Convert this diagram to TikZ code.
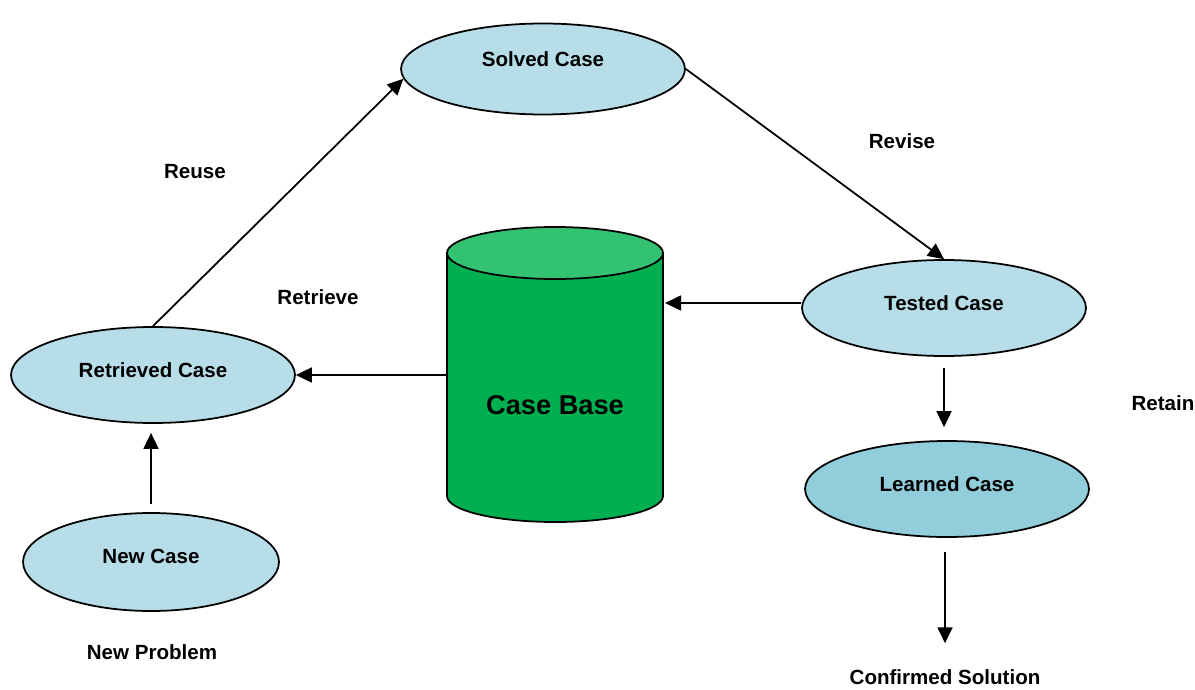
\documentclass[tikz,border=0pt]{standalone}
\usepackage{fontspec}
\setmainfont{Liberation Sans}
\usepackage{tikz}
\usetikzlibrary{arrows.meta}
\usetikzlibrary{shapes.geometric}

\definecolor{caseblue}{HTML}{B7DEE8}
\definecolor{learnblue}{HTML}{92CDDC}
\definecolor{basegreen}{HTML}{00B050}
\definecolor{topgreen}{HTML}{33C172}

\def\thickness{1pt}
\tikzstyle{thick}=[line width=\thickness]
\tikzset{casenode/.style={ellipse, draw, line width=1pt, fill=caseblue,
    minimum width=5.68cm, minimum height=1.92cm, inner sep=0pt,
    text depth=6pt, font=\fontsize{11.7}{14}\selectfont\bfseries}}
\tikzset{steplabel/.style={font=\fontsize{11.7}{14}\selectfont\bfseries}}
\tikzset{flow/.style={thick, -{Triangle[length=0.32cm, width=0.3cm]}}}

\begin{document}
\begin{tikzpicture}[x=0.02cm, y=0.02cm]

\useasboundingbox (0, 0) rectangle (1195, -689);

% the four cases round the loop
\node [casenode, minimum height=1.82cm, text depth=11.5pt] (solved) at (543, -69) {Solved Case};
\node [casenode] (tested) at (944, -308) {Tested Case};
\node [casenode] (retrieved) at (153, -375) {Retrieved Case};
\node [casenode, fill=learnblue] (learned) at (947, -489) {Learned Case};
\node [casenode, minimum width=5.12cm, minimum height=1.96cm] (new) at (151, -562) {New Case};

% case base drum
\filldraw [fill=basegreen, line width=1pt] (447, -253) -- (447, -496)
    arc (180:360:108 and 26) -- (663, -253) -- cycle;
\filldraw [fill=topgreen, line width=1pt] (555, -253) ellipse (108 and 26);
\node [font=\fontsize{15.5}{18}\selectfont\bfseries] (casebase) at (555, -405) {Case Base};
\coordinate (cbE) at (665, -303);
\coordinate (cbW) at (447, -375);

\node [steplabel] (reuse) at (195, -172) {Reuse};
\node [steplabel] (revise) at (902, -141) {Revise};
\node [steplabel] (retrieve) at (318, -297) {Retrieve};
\node [steplabel] (retain) at (1163, -403) {Retain};
\node [steplabel] (problem) at (152, -652) {New Problem};
\node [steplabel] (solution) at (945, -677) {Confirmed Solution};

\draw [flow] (retrieved.north) to (solved.184);
\draw [flow] (solved.east) to (tested.north);
\draw [flow] (tested.west |- cbE) to (cbE);
\draw [flow] (cbW) to (retrieved.east);
\draw [flow, shorten <=0.16cm, shorten >=0.18cm] (new.north) to (new.north |- retrieved.south);
\draw [flow, shorten <=0.22cm, shorten >=0.26cm] (tested.south) to (tested.south |- learned.north);
\draw [flow, shorten <=0.28cm, shorten >=0.4cm] (solution.north |- learned.south) to (solution.north);

\end{tikzpicture}
\end{document}
